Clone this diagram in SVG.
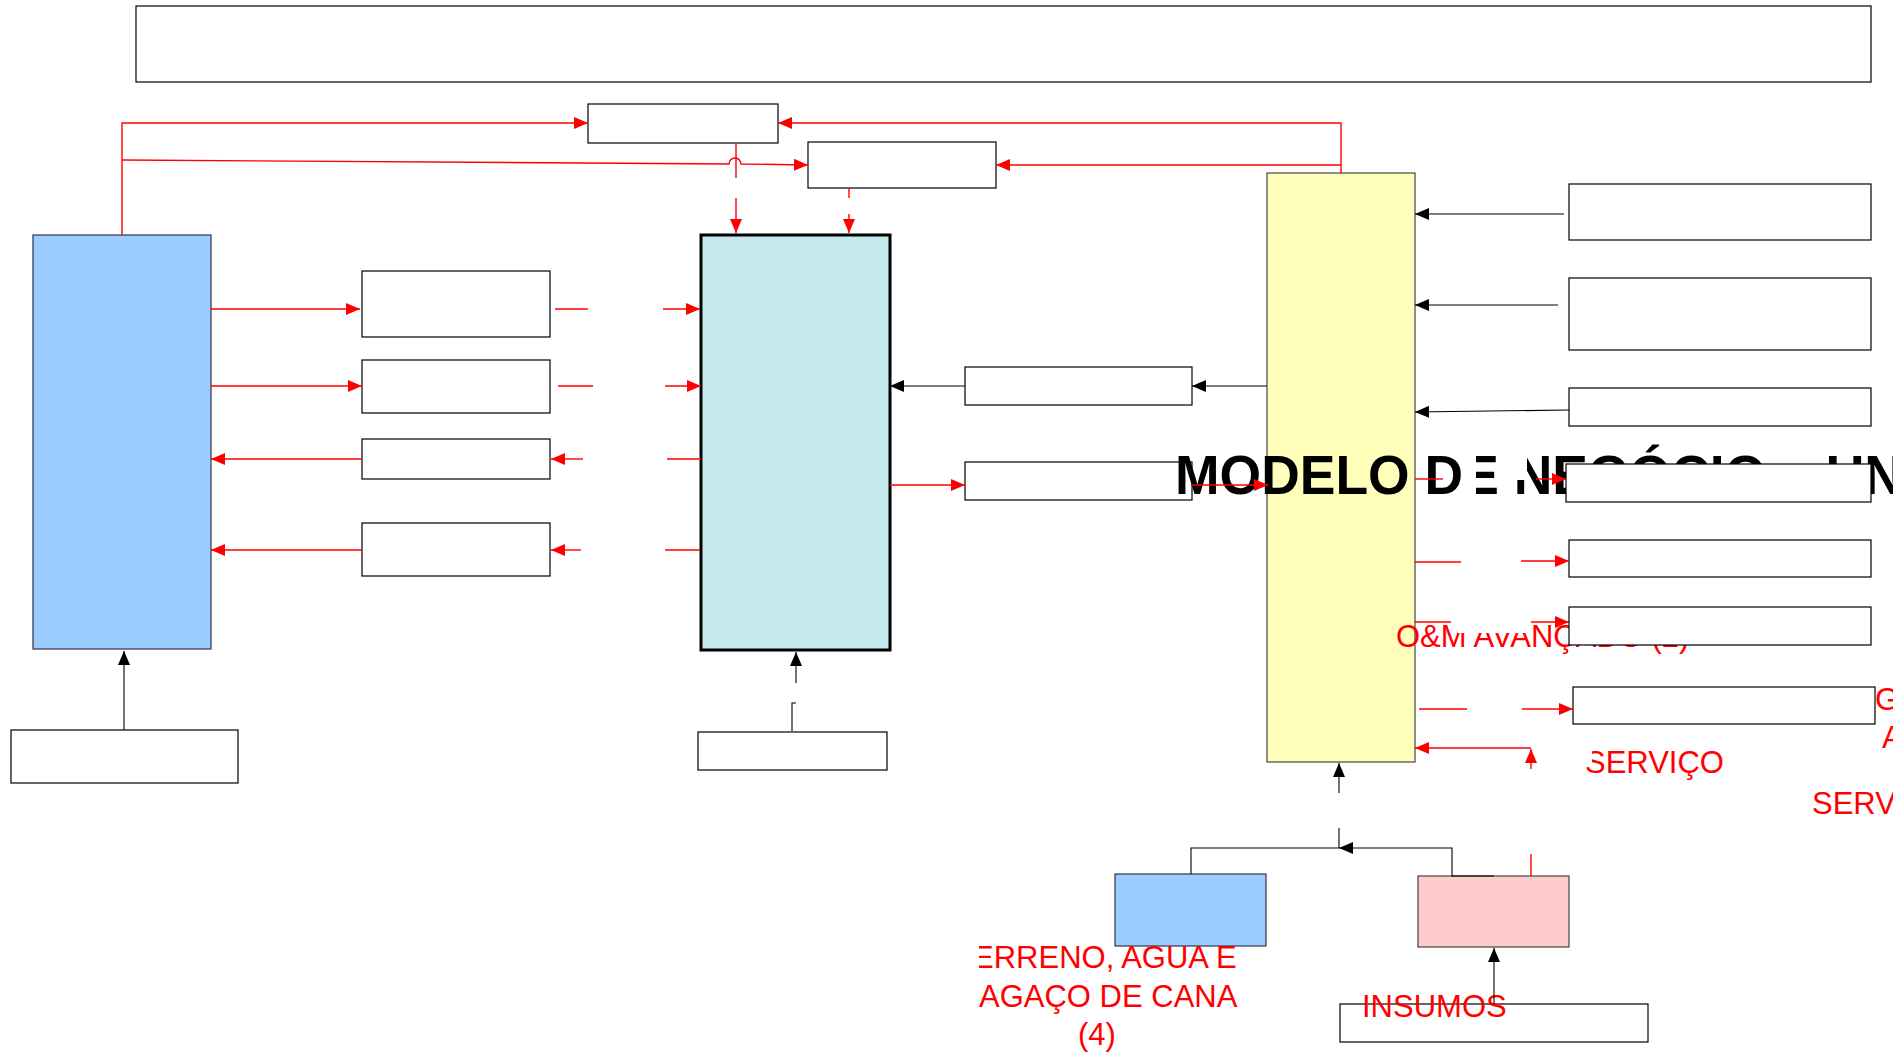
<svg xmlns="http://www.w3.org/2000/svg" width="1893" height="1054" viewBox="0 0 1893 1054">
<defs>
<marker id="ar" viewBox="0 0 14 12" refX="14" refY="6" markerWidth="14" markerHeight="12" markerUnits="userSpaceOnUse" orient="auto"><path d="M0,0 L14,6 L0,12 z" fill="#FF0000"/></marker>
<marker id="ab" viewBox="0 0 14 12" refX="14" refY="6" markerWidth="14" markerHeight="12" markerUnits="userSpaceOnUse" orient="auto"><path d="M0,0 L14,6 L0,12 z" fill="#000"/></marker>
<clipPath id="clipT"><rect x="979" y="900" width="400" height="154"/></clipPath>
</defs>
<style>
.box{fill:#fff;stroke:#000;stroke-width:1.2}
.r{fill:none;stroke:#FF0000;stroke-width:1.4}
.ra{fill:none;stroke:#FF0000;stroke-width:1.4;marker-end:url(#ar)}
.b{fill:none;stroke:#000;stroke-width:1.1}
.ba{fill:none;stroke:#000;stroke-width:1.1;marker-end:url(#ab)}
.rt{font-family:"Liberation Sans",Arial,sans-serif;font-size:31px;fill:#FF0000}
.big{font-family:"Liberation Sans",Arial,sans-serif;font-size:56px;font-weight:bold;fill:#000}
.mask{fill:#fff}
</style>
<rect width="1893" height="1054" fill="#fff"/>

<g id="nodes">
<g id="n-top"><rect class="box" x="136" y="6" width="1735" height="76"/></g>
<g id="n-a"><rect class="box" x="588" y="104" width="190" height="39"/></g>
<g id="n-b"><rect class="box" x="808" y="142" width="188" height="46"/></g>
<g id="n-blue"><rect x="33" y="235" width="178" height="414" fill="#99CCFF" stroke="#334" stroke-width="1.2"/></g>
<g id="n-l1"><rect class="box" x="362" y="271" width="188" height="66"/></g>
<g id="n-l2"><rect class="box" x="362" y="360" width="188" height="53"/></g>
<g id="n-l3"><rect class="box" x="362" y="439" width="188" height="40"/></g>
<g id="n-l4"><rect class="box" x="362" y="523" width="188" height="53"/></g>
<g id="n-center"><rect x="701" y="235" width="189" height="415" fill="#C4EAEF" stroke="#000" stroke-width="3"/></g>
<g id="n-c1"><rect class="box" x="965" y="367" width="227" height="38"/></g>
<g id="n-c2"><rect class="box" x="965" y="462" width="227" height="38"/></g>
<g id="n-yellow"><rect x="1267" y="173" width="148" height="589" fill="#FFFFBB" stroke="#333" stroke-width="1.1"/></g>
<g id="n-r1"><rect class="box" x="1569" y="184" width="302" height="56"/></g>
<g id="n-r2"><rect class="box" x="1569" y="278" width="302" height="72"/></g>
<g id="n-r3"><rect class="box" x="1569" y="388" width="302" height="38"/></g>
<g id="n-r5"><rect class="box" x="1569" y="540" width="302" height="37"/></g>
<g id="n-r7"><rect class="box" x="1573" y="687" width="302" height="37"/></g>
<g id="n-bl"><rect class="box" x="11" y="730" width="227" height="53"/></g>
<g id="n-bc"><rect class="box" x="698" y="732" width="189" height="38"/></g>
<g id="n-bblue"><rect x="1115" y="874" width="151" height="72" fill="#99CCFF" stroke="#334" stroke-width="1.2"/></g>
<g id="n-pink"><rect x="1418" y="876" width="151" height="71" fill="#FFCCCC" stroke="#444" stroke-width="1.2"/></g>
<g id="n-bbox"><rect class="box" x="1340" y="1004" width="308" height="38"/></g>
</g>

<g id="labels">
<text class="big" transform="translate(1175,494) scale(0.955,1)" x="0" y="0">MODELO DE NEGÓCIO – UN</text>
<rect class="mask" x="1466" y="452" width="10" height="44"/>
<rect class="mask" x="1506" y="450" width="21" height="30"/>
<text class="rt" x="1396" y="647">O&amp;M AVANÇADO (2)</text>
<rect class="mask" x="1458" y="610" width="74" height="23"/>
<text class="rt" x="1585" y="773">SERVIÇO</text>
<rect class="mask" x="1583" y="748" width="9" height="17"/>
<text class="rt" x="1875" y="710">G</text>
<text class="rt" x="1882" y="748">A</text>
<text class="rt" x="1812" y="814">SERV</text>
<g clip-path="url(#clipT)">
<text class="rt" x="973" y="968">ERRENO, AGUA E</text>
<text class="rt" x="979" y="1007">AGAÇO DE CANA</text>
</g>
<text class="rt" x="1078" y="1045">(4)</text>
<text class="rt" x="1362" y="1017">INSUMOS</text>
</g>

<g id="connectors">
<path class="ra" d="M122,235 V123 H588"/>
<path class="ra" d="M122,160 L729,164 A6,6 0 0 1 741,164 L808,165"/>
<path class="ra" d="M1341,173 V123 H778"/>
<path class="ra" d="M1341,165 H996"/>
<path class="r" d="M736,143 V178"/>
<path class="ra" d="M736,198 V233"/>
<path class="r" d="M849,188 V198"/>
<path class="ra" d="M849,214 V233"/>
<path class="ra" d="M211,309 H360"/>
<path class="r" d="M555,309 H588"/>
<path class="ra" d="M663,309 H700"/>
<path class="ra" d="M211,386 H362"/>
<path class="r" d="M558,386 H593"/>
<path class="ra" d="M665,386 H701"/>
<path class="ra" d="M362,459 H211"/>
<path class="ra" d="M583,459 H551"/>
<path class="r" d="M667,459 H701"/>
<path class="ra" d="M362,550 H211"/>
<path class="ra" d="M581,550 H551"/>
<path class="r" d="M665,550 H700"/>
<path class="ba" d="M1267,386 H1192"/>
<path class="ba" d="M965,386 H890"/>
<path class="ra" d="M890,485 H965"/>
<path class="ra" d="M1192,485 H1268"/>
<path class="ba" d="M1564,214 H1415"/>
<path class="ba" d="M1558,305 H1415"/>
<path class="ba" d="M1569,410 L1415,412"/>
<path class="r" d="M1415,479 H1443"/>
<path class="ra" d="M1536,479 H1566"/>
<path class="r" d="M1415,562 H1461"/>
<path class="ra" d="M1521,561 H1569"/>
<path class="r" d="M1415,622 H1451"/>
<path class="ra" d="M1531,622 H1569"/>
<path class="r" d="M1419,709 H1467"/>
<path class="ra" d="M1522,709 H1573"/>
<path class="ra" d="M1531,748 H1415"/>
<path class="ra" d="M1531,769 V749"/>
<path class="r" d="M1531,876 V854"/>
<path class="b" d="M1191,874 V848 H1339"/>
<path class="ba" d="M1494,876 H1452 V848 H1339"/>
<path class="b" d="M1339,848 V828"/>
<path class="ba" d="M1339,793 V763"/>
<path class="ba" d="M1494,1004 V948"/>
<path class="ba" d="M124,730 V651"/>
<path class="b" d="M792,731 V703 H796"/>
<path class="ba" d="M796,683 V652"/>
</g>

<g id="n-r4"><rect class="box" x="1566" y="464" width="305" height="38"/></g>
<g id="n-r6"><rect class="box" x="1569" y="607" width="302" height="38"/></g>
</svg>
